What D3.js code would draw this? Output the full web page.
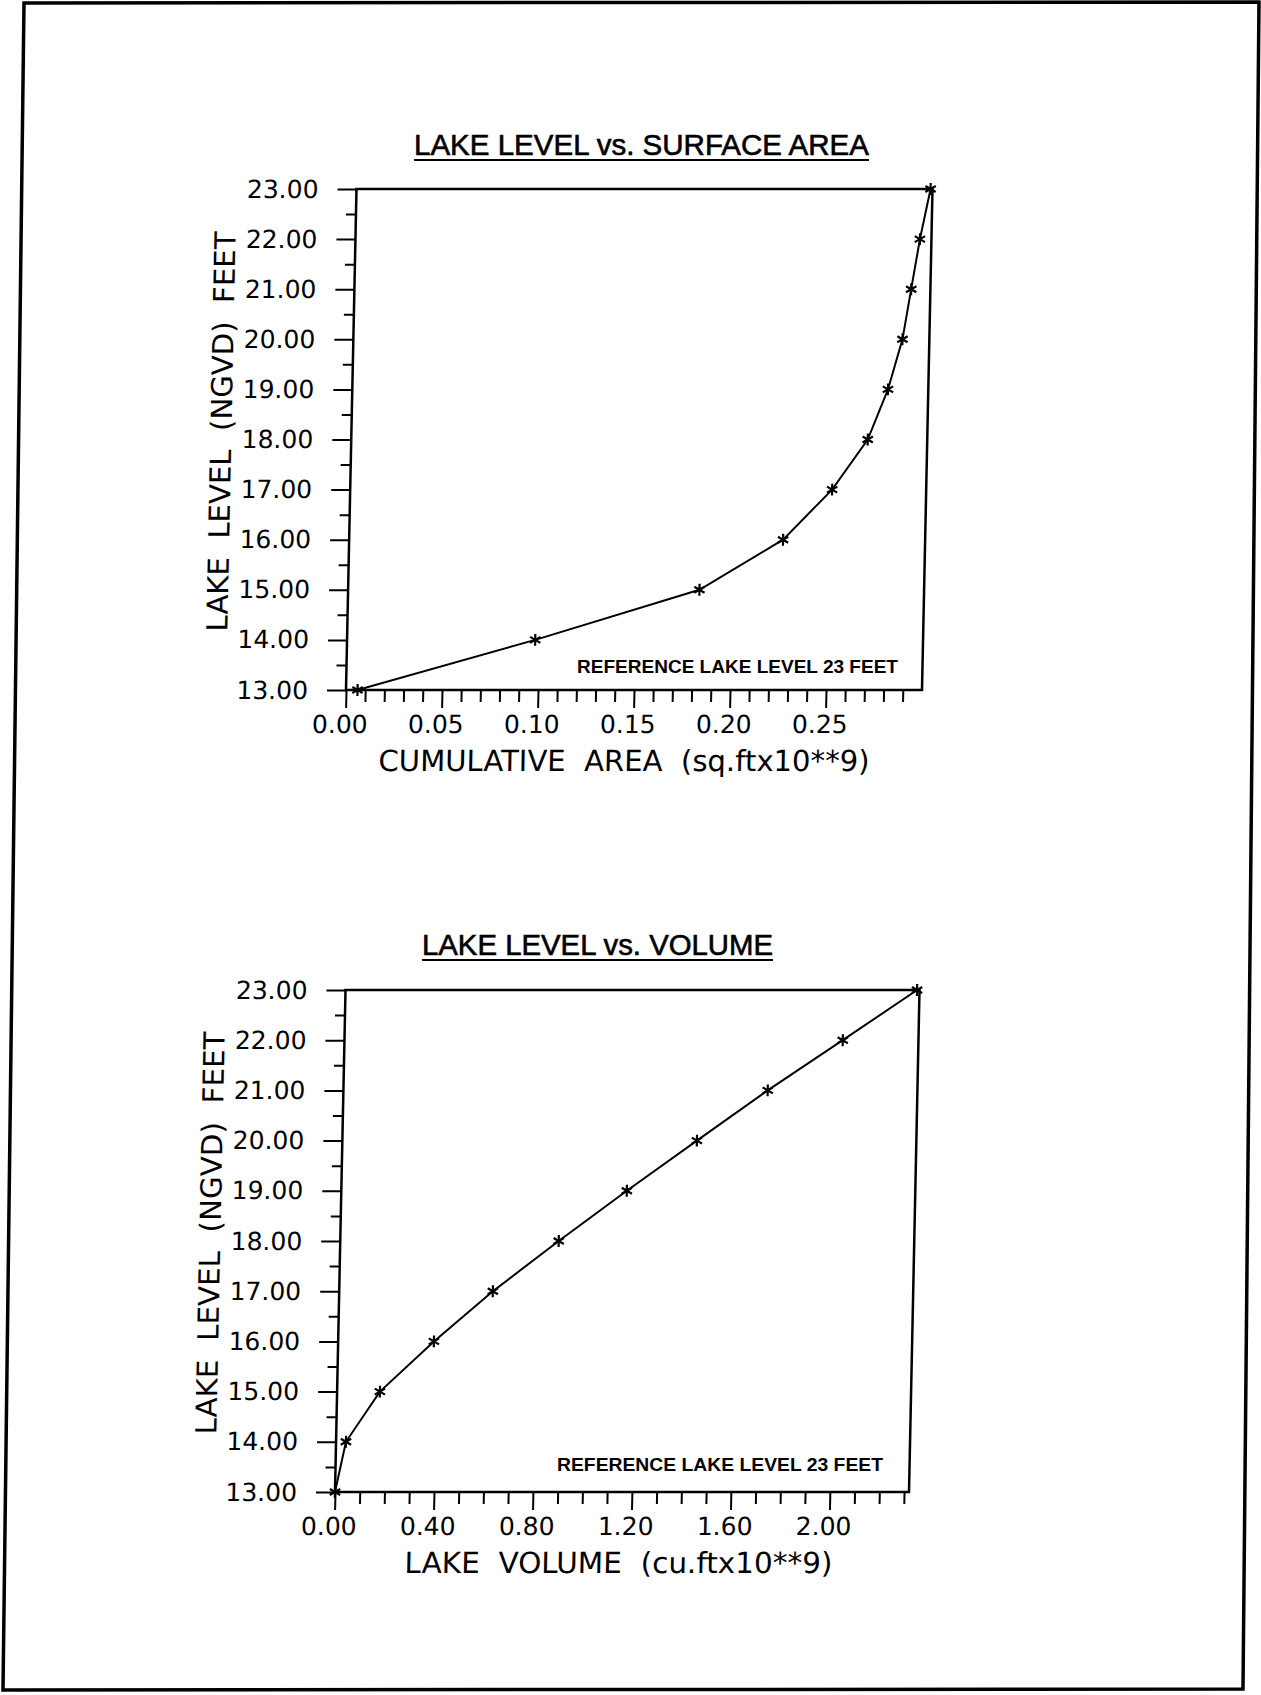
<!DOCTYPE html>
<html>
<head>
<meta charset="utf-8">
<script src="https://cdn.jsdelivr.net/npm/d3@7.9.0/dist/d3.min.js"></script>
<style>
  body { margin: 0; background: #fff; }
  svg { display: block; background: #fff; }
  .tick text { font-family: 'DejaVu Sans', sans-serif; font-size: 25px; fill: #000; }
  .tick line { stroke: #000; stroke-width: 2; }
  .ttl { font-family: 'Liberation Sans', Arial, sans-serif; font-size: 29px; stroke: #000; stroke-width: 0.6; }
  .lbl { font-family: 'DejaVu Sans', sans-serif; font-size: 29px; white-space: pre; }
  .note { font-family: 'Liberation Sans', Arial, sans-serif; font-size: 19px; font-weight: bold; }
</style>
</head>
<body>
<svg id="page" width="1261" height="1695"></svg>
<script>
// lake level (feet NGVD) for every plotted point
const levels = [13, 14, 15, 16, 17, 18, 19, 20, 21, 22, 23];
// cumulative surface area, sq.ft x 10**9
const surfaceArea = [0.006, 0.098, 0.183, 0.226, 0.251, 0.269, 0.279, 0.286, 0.290, 0.294, 0.299];
// lake volume, cu.ft x 10**9
const lakeVolume = [0.000, 0.040, 0.173, 0.387, 0.621, 0.883, 1.154, 1.433, 1.715, 2.014, 2.310];

const levelTicks = [13, 14, 15, 16, 17, 18, 19, 20, 21, 22, 23];
const areaTicks = [0, 0.05, 0.10, 0.15, 0.20, 0.25];
const volumeTicks = [0, 0.40, 0.80, 1.20, 1.60, 2.00];

const svg = d3.select('#page');
const skew = -1.2; // the scan leans a little

// page frame (scanned sheet, slightly sheared)
svg.append('path')
  .attr('d', 'M24,3 L1259,2 L1243,1689 L3,1690 Z')
  .attr('fill', 'none')
  .attr('stroke', '#000')
  .attr('stroke-width', 3.5);

// d3.symbolAsterisk exists in newer v7, keep a fallback
const asterisk = d3.symbolAsterisk || {
  draw(ctx, size) {
    const r = Math.sqrt(size) * 0.6, t = r / 2, u = t * Math.sqrt(3);
    ctx.moveTo(0, r); ctx.lineTo(0, -r);
    ctx.moveTo(-u, -t); ctx.lineTo(u, t);
    ctx.moveTo(-u, t); ctx.lineTo(u, -t);
  }
};

const charts = [
  {
    title: 'LAKE LEVEL vs. SURFACE AREA', titleX: 641.5, titleY: 155, titleLen: 455,
    xLabel: 'CUMULATIVE  AREA  (sq.ftx10**9)', xLabelX: 625.5, xLabelLen: 491,
    yLabel: 'LAKE  LEVEL  (NGVD)  FEET', yLabelLen: 400,
    values: surfaceArea, xMax: 0.30, xTicks: areaTicks, minorStep: 0.01, minorMax: 0.29,
    left: 346, width: 576, top: 189, bottom: 690,
    noteX: 577, noteY: 673, noteLen: 321
  },
  {
    title: 'LAKE LEVEL vs. VOLUME', titleX: 597.5, titleY: 955, titleLen: 351,
    xLabel: 'LAKE  VOLUME  (cu.ftx10**9)', xLabelX: 620, xLabelLen: 428,
    yLabel: 'LAKE  LEVEL  (NGVD)  FEET', yLabelLen: 403,
    values: lakeVolume, xMax: 2.32, xTicks: volumeTicks, minorStep: 0.10, minorMax: 2.30,
    left: 335, width: 574, top: 990, bottom: 1492,
    noteX: 557, noteY: 1471, noteLen: 326
  }
];

const drawChart = (c) => {
  // underlined title
  svg.append('text')
    .attr('class', 'ttl')
    .attr('x', c.titleX - c.titleLen / 2)
    .attr('y', c.titleY)
    .attr('textLength', c.titleLen)
    .attr('lengthAdjust', 'spacingAndGlyphs')
    .text(c.title);
  svg.append('line')
    .attr('x1', c.titleX - c.titleLen / 2).attr('x2', c.titleX + c.titleLen / 2)
    .attr('y1', c.titleY + 5).attr('y2', c.titleY + 5)
    .attr('stroke', '#000').attr('stroke-width', 2.2);

  const g = svg.append('g')
    .attr('transform', `translate(0,${c.bottom}) skewX(${skew}) translate(0,${-c.bottom})`);

  const x = d3.scaleLinear().domain([0, c.xMax]).range([c.left, c.left + c.width]);
  const y = d3.scaleLinear().domain([13, 23]).range([c.bottom, c.top]);

  const isMajor = (v, step) => Math.abs(v / step - Math.round(v / step)) < 1e-6;
  const yMinor = d3.range(13.5, 23, 0.5).filter(v => !isMajor(v, 1));
  const xStep = c.xTicks[1] - c.xTicks[0];
  const xMinor = d3.range(0, c.minorMax + 1e-9, c.minorStep)
    .map(v => +v.toFixed(3))
    .filter(v => !isMajor(v, xStep));

  // y axis: major ticks with labels, minor ticks
  g.append('g')
    .attr('transform', `translate(${c.left},0)`)
    .call(d3.axisLeft(y).tickValues(levelTicks).tickSize(19).tickPadding(19).tickFormat(d3.format('.2f')))
    .call(a => a.select('.domain').remove());
  g.append('g')
    .attr('transform', `translate(${c.left},0)`)
    .call(d3.axisLeft(y).tickValues(yMinor).tickSize(10).tickFormat(''))
    .call(a => a.select('.domain').remove());

  // x axis
  g.append('g')
    .attr('transform', `translate(0,${c.bottom})`)
    .call(d3.axisBottom(x).tickValues(c.xTicks).tickSize(18).tickPadding(7).tickFormat(d3.format('.2f')))
    .call(a => a.select('.domain').remove())
    .call(a => a.selectAll('text').attr('dx', -6));
  g.append('g')
    .attr('transform', `translate(0,${c.bottom})`)
    .call(d3.axisBottom(x).tickValues(xMinor).tickSize(12).tickFormat(''))
    .call(a => a.select('.domain').remove());

  // plot frame
  g.append('rect')
    .attr('x', x(0)).attr('y', y(23))
    .attr('width', x(c.xMax) - x(0)).attr('height', y(13) - y(23))
    .attr('fill', 'none').attr('stroke', '#000').attr('stroke-width', 2.5);

  // axis titles
  g.append('text')
    .attr('class', 'lbl')
    .attr('x', c.xLabelX - c.xLabelLen / 2)
    .attr('y', c.bottom + 81)
    .attr('textLength', c.xLabelLen)
    .attr('lengthAdjust', 'spacingAndGlyphs')
    .text(c.xLabel);
  const midY = (c.top + c.bottom) / 2 - 8;
  g.append('text')
    .attr('class', 'lbl')
    .attr('transform', `translate(${c.left - 120},${midY}) rotate(-90)`)
    .attr('x', -c.yLabelLen / 2)
    .attr('textLength', c.yLabelLen)
    .attr('lengthAdjust', 'spacingAndGlyphs')
    .text(c.yLabel);

  // curve + star markers
  const pts = levels.map((lv, i) => ({ level: lv, v: c.values[i] }));
  g.append('path')
    .datum(pts)
    .attr('d', d3.line().x(d => x(d.v)).y(d => y(d.level)))
    .attr('fill', 'none').attr('stroke', '#000').attr('stroke-width', 2);
  g.selectAll('.star')
    .data(pts)
    .join('path')
    .attr('class', 'star')
    .attr('d', d3.symbol(asterisk, 100))
    .attr('transform', d => `translate(${x(d.v)},${y(d.level)})`)
    .attr('fill', 'none').attr('stroke', '#000').attr('stroke-width', 2.2);

  // note inside the plot
  svg.append('text')
    .attr('class', 'note')
    .attr('x', c.noteX).attr('y', c.noteY)
    .attr('textLength', c.noteLen)
    .attr('lengthAdjust', 'spacingAndGlyphs')
    .text('REFERENCE LAKE LEVEL 23 FEET');
};

charts.forEach(drawChart);
</script>
</body>
</html>
